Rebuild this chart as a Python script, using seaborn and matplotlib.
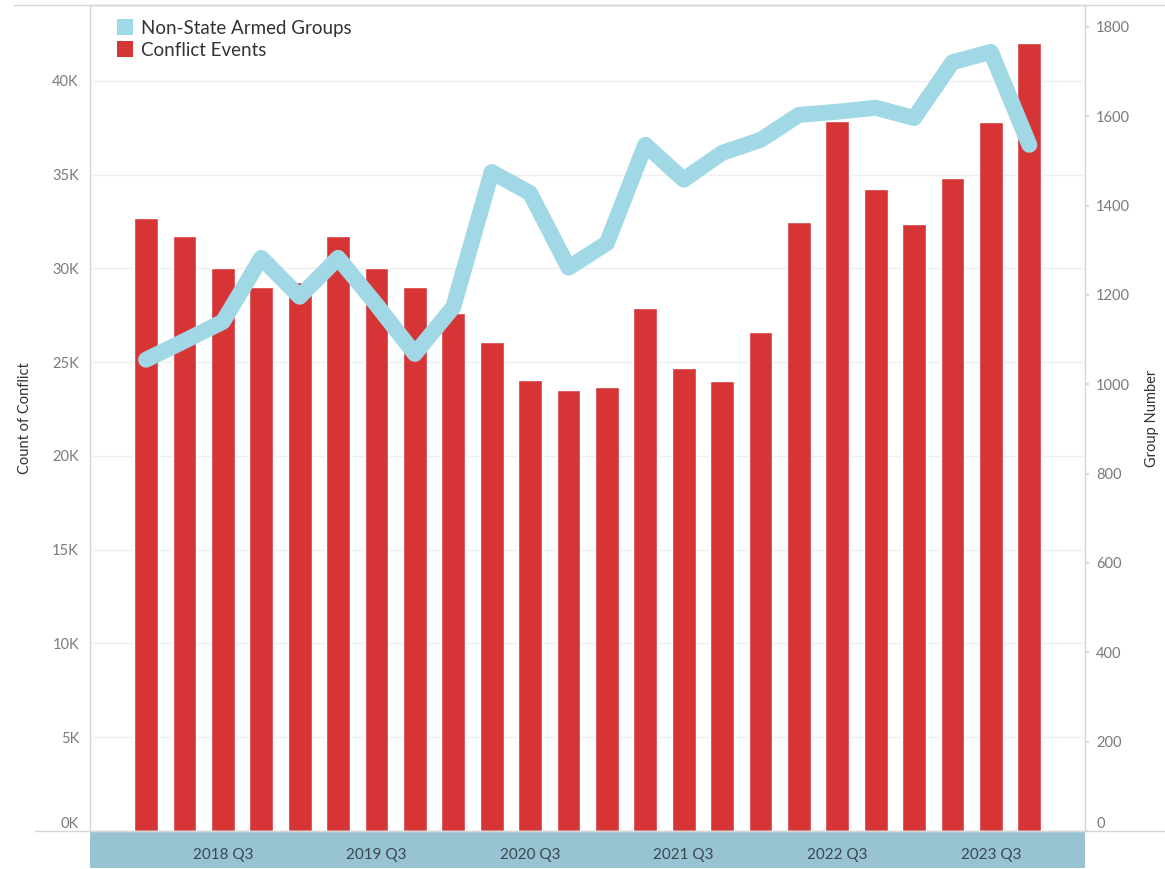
import numpy as np
import pandas as pd
import matplotlib.pyplot as plt
import seaborn as sns
from matplotlib.patches import Rectangle, Patch
from matplotlib.lines import Line2D
from matplotlib.ticker import FuncFormatter, MultipleLocator

# Quarters 2018 Q1 .. 2023 Q4
quarters = [f"{y} Q{q}" for y in range(2018, 2024) for q in range(1, 5)]

# Conflict events per quarter
conflict_events = [32700, 31750, 30000, 29000, 29300, 31750, 30050, 29000,
                   27650, 26100, 24050, 23500, 23700, 27900, 24700, 24000,
                   26600, 32500, 37850, 34250, 32350, 34850, 37800, 42050]

# Non-state armed groups per quarter
armed_groups = [1055, 1097, 1140, 1283, 1196, 1283, 1178, 1068,
                1173, 1475, 1428, 1261, 1316, 1536, 1458, 1518,
                1547, 1603, 1610, 1619, 1596, 1721, 1744, 1536]

# Labelled ticks on the x axis
label_quarters = ["2018 Q3", "2019 Q3", "2020 Q3", "2021 Q3", "2022 Q3", "2023 Q3"]

df = pd.DataFrame({'quarter': quarters, 'events': conflict_events, 'groups': armed_groups})
df['idx'] = np.arange(len(df))

bar_color = '#d63536'
line_color = '#a1d8e6'
band_color = '#98c3d3'
grey = '#7a7a7a'

sns.set_theme(style='white')
plt.rcParams['font.family'] = ['Lato', 'DejaVu Sans']

fig = plt.figure(figsize=(11.65, 8.69), dpi=100)
ax = fig.add_axes([90 / 1165, 38 / 869, 995 / 1165, 826 / 869])

# Bars for conflict events
sns.barplot(data=df, x='idx', y='events', color=bar_color, width=0.62,
            saturation=1, native_scale=True, ax=ax, zorder=2)
ax.set_xlim(-1.46, 24.45)
ax.set_ylim(0, 44050)
ax.yaxis.set_major_locator(MultipleLocator(5000))
ax.yaxis.set_major_formatter(FuncFormatter(lambda v, p: f"{int(v / 1000)}K"))
ax.grid(axis='y', color='#efefef', linewidth=1)
ax.set_axisbelow(True)
ax.tick_params(axis='y', length=0, labelsize=10.5, labelcolor=grey, pad=8)
ax.set_ylabel('Count of Conflict', fontsize=10.5, color='#333333')
ax.yaxis.set_label_coords(-0.058, 0.5)

# x ticks: every quarter as a minor tick, the Q3s labelled
ax.set_xticks(np.arange(-1, 25), minor=True)
major_pos = [quarters.index(q) for q in label_quarters]
ax.set_xticks(major_pos)
ax.set_xticklabels(label_quarters)
ax.tick_params(axis='x', which='major', direction='out', length=4, width=0.8,
               color='#555555', labelsize=11, labelcolor='#3a4650', pad=8)
ax.tick_params(axis='x', which='minor', direction='out', length=2, width=0.8,
               color='#555555')
ax.set_xlabel('')

for side in ['left', 'right', 'top', 'bottom']:
    ax.spines[side].set_color('#d6d6d6')
    ax.spines[side].set_linewidth(1)

# coloured band behind the x labels
band = Rectangle((0, -0.0445), 1, 0.0445, transform=ax.transAxes,
                 facecolor=band_color, edgecolor='none', clip_on=False, zorder=0)
ax.add_patch(band)

# Line for non-state armed groups on the right axis
ax2 = ax.twinx()
sns.lineplot(data=df, x='idx', y='groups', color=line_color, linewidth=11.5,
             ax=ax2, solid_capstyle='round', solid_joinstyle='round', zorder=3)
ax2.set_xlim(-1.46, 24.45)
ax2.set_ylim(0, 1849)
ax2.yaxis.set_major_locator(MultipleLocator(200))
ax2.tick_params(axis='y', length=3, color='#d6d6d6', labelsize=10.5, labelcolor=grey, pad=5)
ax2.set_ylabel('Group Number', fontsize=10.5, color='#333333')
ax2.yaxis.set_label_coords(1.06, 0.5)
ax2.set_xlabel('')
for side in ['left', 'right', 'top', 'bottom']:
    ax2.spines[side].set_visible(False)

# Legend
handles = [Patch(facecolor=line_color, edgecolor='none', label='Non-State Armed Groups'),
           Patch(facecolor=bar_color, edgecolor='none', label='Conflict Events')]
ax2.legend(handles=handles, loc='upper left', bbox_to_anchor=(0.01, 1.003),
           frameon=False, fontsize=13.5, handlelength=0.85, handleheight=0.9,
           handletextpad=0.45, labelspacing=0.25, labelcolor='#333333')

# pane border lines across the figure
fig.add_artist(Line2D([0.012, 1], [1 - 5 / 869] * 2, color='#d6d6d6', linewidth=1))
fig.add_artist(Line2D([0.03, 1], [38 / 869] * 2, color='#d6d6d6', linewidth=1))

# zero labels sit just above the baseline
fig.canvas.draw()
for t in ax.yaxis.get_major_ticks():
    if abs(t.get_loc()) < 1e-9:
        t.label1.set_va('bottom')
for t in ax2.yaxis.get_major_ticks():
    if abs(t.get_loc()) < 1e-9:
        t.label2.set_va('bottom')

plt.savefig('out.png', dpi=100)
